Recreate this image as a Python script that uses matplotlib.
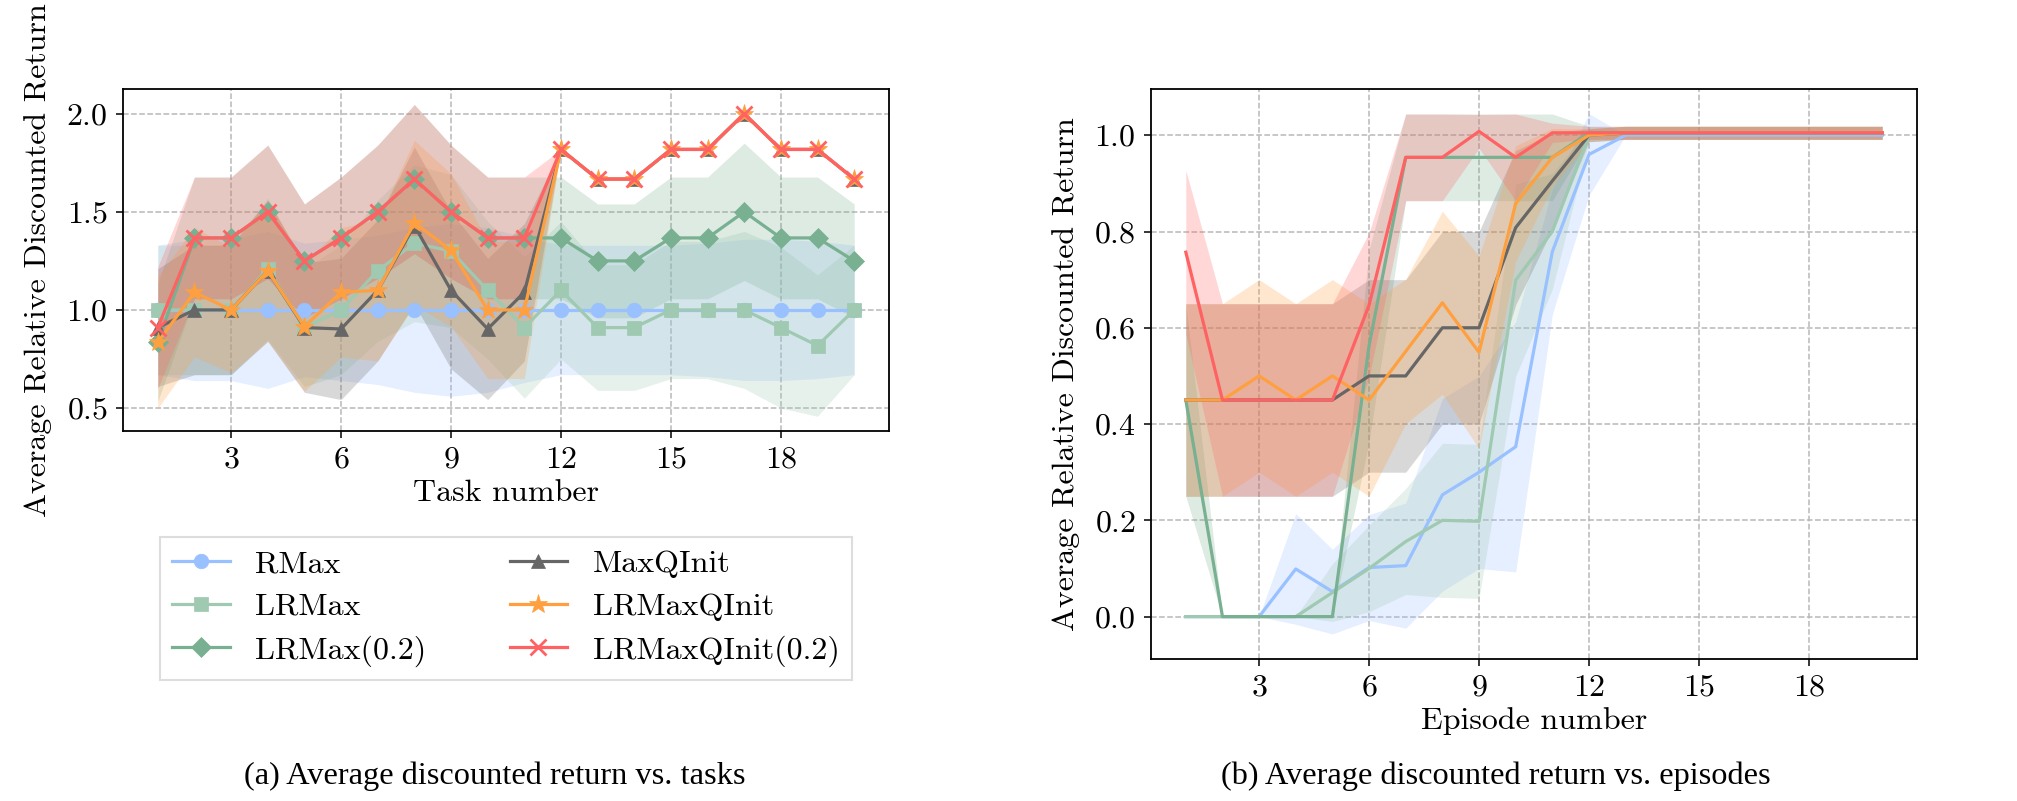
import matplotlib as mpl
import matplotlib.pyplot as plt
import numpy as np

mpl.rcParams['font.family'] = 'cmr10'
mpl.rcParams['mathtext.fontset'] = 'cm'
mpl.rcParams['axes.formatter.use_mathtext'] = True
mpl.rcParams.update({'font.size': 23})
mpl.rc('xtick', labelsize=23)
mpl.rc('ytick', labelsize=23)

# ---- data: (a) per task ----
tasks = np.arange(1, 21)

rmax = [1.0] * 20
rmax_std = [0.33, 0.36, 0.36, 0.40, 0.34, 0.36, 0.38, 0.42, 0.44, 0.42,
            0.37, 0.33, 0.33, 0.33, 0.33, 0.34, 0.36, 0.36, 0.35, 0.33]
lrmax = [1.0, 1.0, 1.0, 1.21, 0.91, 1.0, 1.2, 1.34, 1.3, 1.1,
         0.91, 1.1, 0.91, 0.91, 1.0, 1.0, 1.0, 0.91, 0.818, 1.0]
lrmax_std = [0.33, 0.33, 0.33, 0.36, 0.30, 0.33, 0.36, 0.40, 0.39, 0.35,
             0.36, 0.35, 0.32, 0.32, 0.35, 0.35, 0.40, 0.41, 0.36, 0.33]
lrmax02 = [0.835, 1.367, 1.367, 1.5, 1.25, 1.367, 1.5, 1.667, 1.5, 1.367,
           1.367, 1.367, 1.25, 1.25, 1.367, 1.367, 1.5, 1.367, 1.367, 1.25]
lrmax02_std = [0.30, 0.31, 0.31, 0.34, 0.29, 0.31, 0.34, 0.38, 0.34, 0.31,
               0.31, 0.31, 0.29, 0.29, 0.31, 0.31, 0.35, 0.31, 0.31, 0.29]
maxqinit = [0.91, 1.0, 1.0, 1.2, 0.91, 0.903, 1.1, 1.43, 1.1, 0.903,
            1.09, 1.818, 1.667, 1.667, 1.818, 1.818, 2.0, 1.818, 1.818, 1.667]
maxqinit_std = [0.30, 0.33, 0.33, 0.36, 0.33, 0.36, 0.36, 0.40, 0.40, 0.36,
                0.35, 0, 0, 0, 0, 0, 0, 0, 0, 0]
lrmaxqinit = [0.835, 1.09, 1.0, 1.2, 0.915, 1.09, 1.1, 1.444, 1.304, 1.0,
              1.0, 1.818, 1.667, 1.667, 1.818, 1.818, 2.0, 1.818, 1.818, 1.667]
lrmaxqinit_std = [0.335, 0.33, 0.32, 0.36, 0.33, 0.33, 0.36, 0.42, 0.39, 0.35,
                  0.35, 0, 0, 0, 0, 0, 0, 0, 0, 0]
lrmaxqinit02 = [0.91, 1.367, 1.367, 1.5, 1.25, 1.367, 1.5, 1.667, 1.5, 1.367,
                1.367, 1.818, 1.667, 1.667, 1.818, 1.818, 2.0, 1.818, 1.818, 1.667]
lrmaxqinit02_std = [0.31, 0.31, 0.31, 0.34, 0.29, 0.31, 0.34, 0.38, 0.34, 0.31,
                    0.31, 0, 0, 0, 0, 0, 0, 0, 0, 0]

# ---- data: (b) per episode ----
episodes = np.arange(1, 21)

rmax_ep = [0, 0, 0, 0.099, 0.052, 0.102, 0.106, 0.253, 0.30, 0.353,
           0.758, 0.96, 1.0, 1.0, 1.0, 1.0, 1.0, 1.0, 1.0, 1.0]
rmax_ep_std = [0, 0, 0, 0.115, 0.088, 0.11, 0.13, 0.20, 0.20, 0.26,
               0.13, 0.085, 0, 0, 0, 0, 0, 0, 0, 0]
lrmax_ep = [0, 0, 0, 0, 0.05, 0.1, 0.156, 0.2, 0.198, 0.699,
            0.80, 1.0, 1.005, 1.005, 1.005, 1.005, 1.005, 1.005, 1.005, 1.005]
lrmax_ep_std = [0, 0, 0, 0, 0.06, 0.09, 0.11, 0.16, 0.16, 0.20,
                0.12, 0.0135, 0.0135, 0.0135, 0.0135, 0.0135, 0.0135, 0.0135, 0.0135, 0.0135]
lrmax02_ep = [0.45, 0, 0, 0, 0, 0.563, 0.954, 0.954, 0.954, 0.954,
              0.954, 1.005, 1.005, 1.005, 1.005, 1.005, 1.005, 1.005, 1.005, 1.005]
lrmax02_ep_std = [0.2, 0, 0, 0, 0, 0.2, 0.09, 0.09, 0.09, 0.09,
                  0.09, 0.0135, 0.0135, 0.0135, 0.0135, 0.0135, 0.0135, 0.0135, 0.0135, 0.0135]
maxqinit_ep = [0.45, 0.45, 0.45, 0.45, 0.45, 0.5, 0.5, 0.6, 0.6, 0.808,
               0.905, 1.0, 1.005, 1.005, 1.005, 1.005, 1.005, 1.005, 1.005, 1.005]
maxqinit_ep_std = [0.2, 0.2, 0.2, 0.2, 0.2, 0.2, 0.2, 0.2, 0.2, 0.16,
                   0.1, 0.0135, 0.0135, 0.0135, 0.0135, 0.0135, 0.0135, 0.0135, 0.0135, 0.0135]
lrmaxqinit_ep = [0.45, 0.45, 0.5, 0.45, 0.5, 0.45, 0.551, 0.652, 0.549, 0.858,
                 0.954, 1.0, 1.005, 1.005, 1.005, 1.005, 1.005, 1.005, 1.005, 1.005]
lrmaxqinit_ep_std = [0.2, 0.2, 0.2, 0.2, 0.2, 0.2, 0.15, 0.19, 0.2, 0.12,
                     0.06, 0.0135, 0.0135, 0.0135, 0.0135, 0.0135, 0.0135, 0.0135, 0.0135, 0.0135]
lrmaxqinit02_ep = [0.757, 0.45, 0.45, 0.45, 0.45, 0.647, 0.954, 0.954, 1.008, 0.954,
                   1.005, 1.005, 1.005, 1.005, 1.005, 1.005, 1.005, 1.005, 1.005, 1.005]
lrmaxqinit02_ep_std = [0.17, 0.2, 0.2, 0.2, 0.2, 0.15, 0.09, 0.09, 0.035, 0.09,
                       0.02, 0.0135, 0.0135, 0.0135, 0.0135, 0.0135, 0.0135, 0.0135, 0.0135, 0.0135]

labels = ['RMax', 'LRMax', 'LRMax(0.2)', 'MaxQInit', 'LRMaxQInit', 'LRMaxQInit(0.2)']
colors = ['#99c0ff', '#9fc9b1', '#78b091', '#666666', '#ffa040', '#ff6262']
markers = ['o', 's', 'D', '^', '*', 'x']

series_a = [(rmax, rmax_std), (lrmax, lrmax_std), (lrmax02, lrmax02_std),
            (maxqinit, maxqinit_std), (lrmaxqinit, lrmaxqinit_std),
            (lrmaxqinit02, lrmaxqinit02_std)]
series_b = [(rmax_ep, rmax_ep_std), (lrmax_ep, lrmax_ep_std), (lrmax02_ep, lrmax02_ep_std),
            (maxqinit_ep, maxqinit_ep_std), (lrmaxqinit_ep, lrmaxqinit_ep_std),
            (lrmaxqinit02_ep, lrmaxqinit02_ep_std)]

W, H = 2017, 801
fig = plt.figure(figsize=(W / 100, H / 100), dpi=100)
ax1 = fig.add_axes([123 / W, 1 - 431 / H, 766 / W, 342 / H])
ax2 = fig.add_axes([1151 / W, 1 - 659 / H, 766 / W, 570 / H])

for ax in (ax1, ax2):
    for s in ax.spines.values():
        s.set_linewidth(1.3)
    ax.grid(True, linestyle='--', color='#b8b8b8', linewidth=1.1)
    ax.set_axisbelow(True)
    ax.tick_params(length=5, width=1.1, pad=6)

# (a)
for (m, sd), lab, c, mk in zip(series_a, labels, colors, markers):
    m = np.array(m); sd = np.array(sd)
    ax1.fill_between(tasks, m - sd, m + sd, color=c, alpha=0.25, linewidth=0)
    ms = 14 if mk == '*' else (12 if mk == 'x' else 10.5)
    ax1.plot(tasks, m, color=c, marker=mk, markersize=ms, linewidth=2.3,
             markeredgewidth=2 if mk == 'x' else 0.5, label=lab)

ax1.set_xlim(0.05, 20.95)
ax1.set_ylim(0.383, 2.126)
ax1.set_xticks([3, 6, 9, 12, 15, 18])
ax1.set_yticks([0.5, 1.0, 1.5, 2.0])
ax1.set_xlabel('Task number', labelpad=4)
ax1.set_ylabel('Average Relative Discounted Return', labelpad=10)

# (b)
for (m, sd), lab, c in zip(series_b, labels, colors):
    m = np.array(m); sd = np.array(sd)
    ax2.fill_between(episodes, m - sd, m + sd, color=c, alpha=0.25, linewidth=0)
    ax2.plot(episodes, m, color=c, linewidth=2.3)

ax2.set_xlim(0.05, 20.95)
ax2.set_ylim(-0.088, 1.096)
ax2.set_xticks([3, 6, 9, 12, 15, 18])
ax2.set_yticks([0.0, 0.2, 0.4, 0.6, 0.8, 1.0])
ax2.set_xlabel('Episode number', labelpad=4)
ax2.set_ylabel('Average Relative Discounted Return', labelpad=10)

leg = ax1.legend(loc='upper center', bbox_to_anchor=(506 / W, 1 - 521 / H),
                 bbox_transform=fig.transFigure, ncol=2, fancybox=False,
                 edgecolor='#dddddd', framealpha=1, columnspacing=2.6,
                 labelspacing=0.45, handlelength=1.8, borderpad=0.4)
leg.get_frame().set_linewidth(1.5)

fig.text(495 / W, 1 - 776 / H, '(a) Average discounted return vs. tasks',
         family='Liberation Serif', fontsize=23.3, ha='center', va='center')
fig.text(1496 / W, 1 - 776 / H, '(b) Average discounted return vs. episodes',
         family='Liberation Serif', fontsize=23.3, ha='center', va='center')

plt.savefig('out.png', dpi=100)
